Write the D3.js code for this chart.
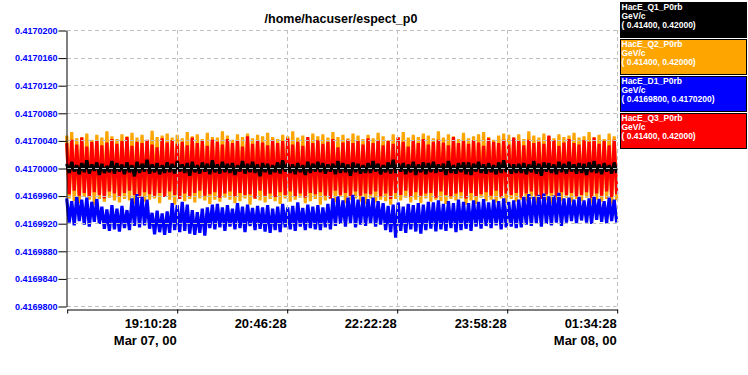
<!DOCTYPE html>
<html>
<head>
<meta charset="utf-8">
<script src="https://cdn.jsdelivr.net/npm/d3@7"></script>
<style>
  body { margin: 0; background: #fff; }
  text { font-family: "Liberation Sans", Arial, sans-serif; font-weight: bold; }
</style>
</head>
<body>
<div id="chart"></div>
<script>
// series values are deviations from 0.417 in units of 1e-7
const BASE = 0.417
const UNIT = 1e-7

const q1 = [
  6,-7,9,-5,4,-9,7,-6,11,-8,5,-4,8,-10,6,-7,3,-6,10,-8,
  7,-5,5,-9,8,-6,4,-12,9,-7,6,-5,12,-8,5,-6,7,-9,4,-7,
  8,-6,6,-8,10,-5,5,-7,7,-11,9,-6,4,-8,8,-5,6,-9,11,-6,
  5,-8,9,-6,6,-7,7,-10,4,-5,10,-8,6,-6,9,-7,5,-12,7,-6,
  6,-9,4,-6,8,-8,11,-5,6,-7,5,-9,7,-6,4,-10,9,-7,6,-5,
  9,-6,7,-8,5,-5,6,-9,10,-7,7,-6,5,-11,8,-6,6,-8,4,-7,
  7,-7,10,-5,6,-9,4,-6,8,-8,12,-7,6,-5,7,-9,5,-6,9,-10,
  5,-6,8,-9,7,-6,9,-7,5,-5,6,-10,10,-7,4,-8,7,-6,8,-9,
  8,-10,6,-5,9,-7,5,-8,7,-6,4,-9,8,-7,11,-6,6,-8,5,-7,
  6,-7,7,-9,5,-6,10,-8,6,-11,8,-5,7,-7,5,-9,9,-6,6,-8,
  9,-5,5,-8,7,-7,6,-10,8,-6,10,-7,5,-9,7,-5,4,-8,8,-7
]

const q2 = [
  47,-44,52,-48,43,-51,45,-42,50,-46,41,-53,48,-45,44,-49,53,-43,46,-47,
  42,-50,49,-45,46,-47,51,-52,44,-43,48,-49,40,-46,54,-44,45,-51,47,-42,
  50,-46,44,-53,48,-41,43,-48,52,-45,46,-50,49,-44,42,-47,51,-52,45,-46,
  44,-49,53,-43,47,-46,41,-51,49,-48,45,-44,50,-53,43,-45,48,-47,46,-50,
  51,-45,45,-48,42,-52,48,-44,46,-49,53,-46,44,-43,47,-51,41,-48,50,-45,
  46,-53,49,-47,44,-45,52,-50,45,-42,48,-51,43,-46,50,-44,47,-49,42,-52,
  48,-44,43,-50,51,-46,46,-48,40,-53,49,-45,45,-47,52,-43,44,-50,48,-46,
  45,-51,50,-44,47,-49,43,-46,53,-48,44,-52,49,-45,46,-47,42,-44,51,-53,
  43,-47,46,-52,49,-43,52,-48,45,-46,41,-50,47,-44,50,-51,48,-45,44,-49,
  49,-46,42,-48,53,-45,47,-51,44,-44,50,-47,46,-52,43,-46,49,-48,45,-43,
  47,-50,51,-45,44,-48,46,-43,52,-51,45,-46,48,-49,42,-45,50,-52,46,-47
]

const d1 = [
  -44,-79,-48,-83,-41,-77,-46,-82,-43,-85,-49,-78,-45,-81,-56,-88,-60,-91,-54,-89,
  -59,-92,-55,-87,-61,-90,-44,-84,-38,-86,-42,-83,-46,-88,-65,-96,-62,-93,-66,-97,
  -63,-94,-51,-90,-54,-93,-49,-91,-53,-95,-61,-97,-64,-94,-59,-98,-57,-87,-53,-89,
  -52,-86,-57,-91,-54,-85,-59,-89,-51,-87,-56,-93,-53,-84,-58,-90,-55,-88,-57,-92,
  -54,-94,-59,-90,-56,-93,-52,-86,-57,-89,-55,-91,-50,-85,-58,-90,-53,-87,-56,-89,
  -54,-90,-57,-86,-52,-89,-44,-84,-41,-81,-47,-85,-43,-80,-39,-86,-46,-82,-42,-84,
  -45,-81,-43,-85,-48,-82,-51,-90,-55,-93,-53,-101,-50,-91,-56,-94,-52,-89,-54,-92,
  -51,-95,-53,-90,-49,-88,-50,-92,-47,-89,-52,-91,-48,-87,-51,-93,-46,-90,-49,-88,
  -51,-91,-47,-85,-49,-88,-45,-84,-50,-87,-46,-83,-48,-89,-44,-86,-49,-85,-47,-87,
  -46,-86,-41,-82,-38,-84,-42,-80,-39,-85,-37,-81,-41,-83,-40,-79,-36,-84,-44,-79,
  -43,-77,-46,-80,-42,-76,-47,-79,-44,-81,-41,-75,-45,-78,-48,-80,-43,-77,-46,-79
]

const q3 = [
  36,-38,41,-33,34,-40,44,-36,31,-42,38,-35,40,-39,33,-44,37,-34,42,-37,
  35,-41,39,-36,45,-33,32,-39,38,-43,36,-35,41,-38,34,-40,30,-36,43,-42,
  37,-34,40,-39,35,-45,38,-37,33,-41,44,-36,36,-33,39,-40,32,-38,41,-35,
  38,-43,34,-37,42,-34,36,-41,40,-36,31,-39,46,-38,35,-44,39,-33,37,-40,
  33,-37,41,-42,36,-35,39,-39,43,-34,34,-41,38,-37,32,-43,45,-36,36,-38,
  40,-35,35,-40,38,-44,42,-33,30,-39,37,-36,41,-42,36,-34,39,-40,34,-37,
  43,-38,36,-34,40,-41,33,-37,39,-45,35,-36,44,-39,38,-33,31,-42,40,-35,
  36,-40,42,-37,34,-36,38,-43,41,-34,37,-39,33,-41,45,-37,36,-35,39,-44,
  35,-36,40,-41,37,-38,32,-35,43,-40,38,-33,36,-42,41,-37,34,-39,44,-36,
  39,-43,33,-37,41,-34,36,-40,38,-45,35,-38,47,-36,40,-41,32,-35,37,-39,
  42,-36,36,-41,34,-39,40,-35,38,-43,44,-37,35,-40,39,-34,33,-42,41,-38
]

const seriesNames = ['HacE_Q1_P0rb', 'HacE_Q2_P0rb', 'HacE_D1_P0rb', 'HacE_Q3_P0rb']
const seriesUnits = ['GeV/c', 'GeV/c', 'GeV/c', 'GeV/c']
const seriesRanges = ['( 0.41400, 0.42000)', '( 0.41400, 0.42000)', '( 0.4169800, 0.4170200)', '( 0.41400, 0.42000)']
const seriesColors = ['#000000', '#ffa500', '#0000ff', '#ff0000']

const yTicks = [0.41698, 0.416984, 0.416988, 0.416992, 0.416996, 0.417, 0.417004, 0.417008, 0.417012, 0.417016, 0.41702]
const tStart = new Date(2000, 2, 7, 17, 34, 28)
const tEnd = new Date(2000, 2, 8, 1, 34, 28)
const xTicks = [
  new Date(2000, 2, 7, 19, 10, 28),
  new Date(2000, 2, 7, 20, 46, 28),
  new Date(2000, 2, 7, 22, 22, 28),
  new Date(2000, 2, 7, 23, 58, 28),
  new Date(2000, 2, 8, 1, 34, 28)
]
const xTimeLabels = ['19:10:28', '20:46:28', '22:22:28', '23:58:28', '01:34:28']
const xDateLabels = ['Mar 07, 00', '', '', '', 'Mar 08, 00']

const svg = d3.select('#chart')
  .append('svg')
    .attr('width', 748)
    .attr('height', 375)

const x = d3.scaleTime()
  .domain([tStart, tEnd])
  .range([66.7, 616.7])

const y = d3.scaleLinear()
  .domain([0.41698, 0.41702])
  .range([306, 30])

const timeAt = (i, n) => new Date(+tStart + (tEnd - tStart) * i / (n - 1))

const line = d3.line()
  .x((d, i, arr) => x(timeAt(i, arr.length)))
  .y(d => y(BASE + d * UNIT))

// orange behind red, black on top, blue separate
const drawOrder = [[q2, 1], [q3, 3], [q1, 0], [d1, 2]]
drawOrder.forEach(([vals, k]) => {
  svg.append('path')
    .attr('d', line(vals))
    .style('fill', 'none')
    .style('stroke', seriesColors[k])
    .style('stroke-width', 3.2)
    .style('stroke-linejoin', 'bevel')
})

// dashed grid over the data
const grid = svg.append('g')
  .style('stroke', '#c0c0c0')
  .style('stroke-dasharray', '4,3')
yTicks.forEach(v => {
  grid.append('line')
    .attr('x1', 67).attr('x2', 616.7)
    .attr('y1', Math.round(y(v)) + 0.5).attr('y2', Math.round(y(v)) + 0.5)
})
xTicks.forEach(t => {
  grid.append('line')
    .attr('x1', Math.round(x(t)) + 0.5).attr('x2', Math.round(x(t)) + 0.5)
    .attr('y1', 30).attr('y2', 306)
})

const yAxis = svg.append('g')
  .attr('transform', 'translate(66.5,0.5)')
  .call(d3.axisLeft(y).tickValues(yTicks).tickFormat(d3.format('.7f')).tickSize(8).tickSizeOuter(0).tickPadding(1))
yAxis.selectAll('text')
  .style('font-size', '9px')
  .style('fill', '#0000ff')
yAxis.selectAll('path, line').style('stroke', '#000')

const xAxis = svg.append('g')
  .attr('transform', 'translate(0.5,309.5)')
  .call(d3.axisBottom(x).tickValues([tStart].concat(xTicks)).tickFormat('').tickSize(4).tickSizeOuter(0))
xAxis.selectAll('path, line').style('stroke', '#000')

const xLabels = svg.append('g')
  .style('font-size', '13px')
  .attr('text-anchor', 'end')
xTicks.forEach((t, i) => {
  xLabels.append('text')
    .attr('x', x(t))
    .attr('y', 328)
    .text(xTimeLabels[i])
  xLabels.append('text')
    .attr('x', x(t))
    .attr('y', 345)
    .text(xDateLabels[i])
})

svg.append('text')
  .attr('x', 341)
  .attr('y', 23)
  .attr('text-anchor', 'middle')
  .style('font-size', '12.5px')
  .text('/home/hacuser/espect_p0')

const legend = svg.append('g')
seriesNames.forEach((name, i) => {
  const box = legend.append('g')
    .attr('transform', 'translate(620.5,' + (2.5 + i * 37) + ')')
  box.append('rect')
    .attr('width', 126)
    .attr('height', 35)
    .style('fill', seriesColors[i])
    .style('stroke', '#000')
  ;[name, seriesUnits[i], seriesRanges[i]].forEach((s, j) => {
    box.append('text')
      .attr('x', 1)
      .attr('y', 7.5 + j * 9)
      .style('font-size', '8.5px')
      .style('fill', '#fff')
      .text(s)
  })
})
</script>
</body>
</html>
